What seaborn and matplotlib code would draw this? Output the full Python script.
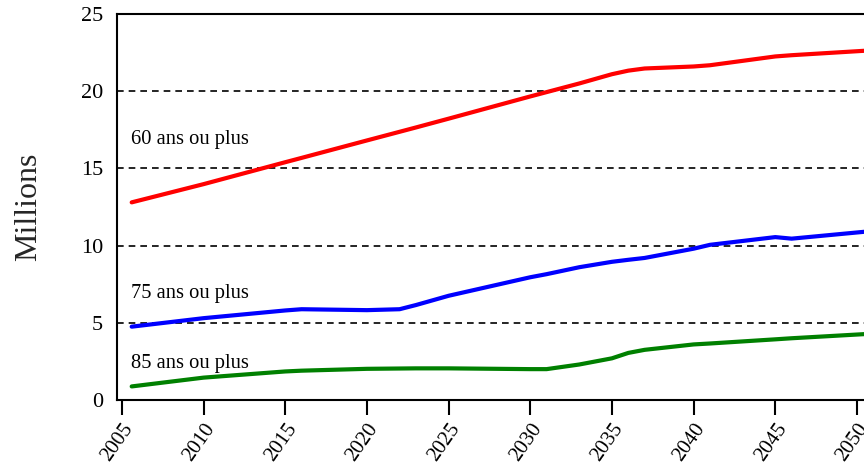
import pandas as pd
import matplotlib
matplotlib.use("Agg")
import matplotlib.pyplot as plt
import seaborn as sns

# population projections (millions)
years = [2005.6, 2010, 2015, 2016, 2020, 2022, 2023, 2025, 2030, 2031,
         2033, 2035, 2036, 2037, 2040, 2041, 2045, 2046, 2050.5]
plus60 = [12.8, 13.98, 15.4, 15.68, 16.81, 17.37, 17.65, 18.22, 19.66, 19.94,
          20.5, 21.1, 21.33, 21.47, 21.6, 21.68, 22.25, 22.33, 22.62]
plus75 = [4.75, 5.3, 5.8, 5.88, 5.82, 5.88, 6.15, 6.75, 7.95, 8.15,
          8.6, 8.95, 9.08, 9.2, 9.8, 10.05, 10.55, 10.45, 10.9]
plus85 = [0.88, 1.45, 1.85, 1.9, 2.02, 2.04, 2.05, 2.05, 2.0, 2.0,
          2.3, 2.7, 3.05, 3.25, 3.6, 3.66, 3.93, 4.0, 4.27]

groups = ["60 ans ou plus", "75 ans ou plus", "85 ans ou plus"]
colors = ["#ff0000", "#0000ff", "#008000"]
label_y = [16.6, 6.6, 2.05]
xticks = list(range(2005, 2051, 5))
yticks = [0, 5, 10, 15, 20, 25]

df = pd.DataFrame({
    "year": years * 3,
    "value": plus60 + plus75 + plus85,
    "group": [g for g in groups for _ in years],
})

sns.set_style("white")
plt.rcParams['font.family'] = ['Liberation Serif', 'DejaVu Serif']

fig = plt.figure(figsize=(8.64, 4.66), dpi=100)
ax = fig.add_axes([0.1354, 0.1416, 0.8646, 0.8284])

for y in yticks[1:-1]:
    ax.axhline(y, color="black", lw=1.2, ls=(0, (4, 3)), zorder=1)

sns.lineplot(data=df, x="year", y="value", hue="group", palette=colors,
             linewidth=3, legend=False, ax=ax, zorder=3)

for g, ly in zip(groups, label_y):
    ax.text(2005.55, ly, g, fontsize=14.8, color="black", va="baseline", ha="left")

ax.set_xlim(2004.7, 2050.43)
ax.set_ylim(0, 25)
ax.set_xticks(xticks)
ax.set_yticks(yticks)
ax.set_xticklabels([str(t) for t in xticks], rotation=55, ha="right",
                   rotation_mode="anchor", fontsize=15)
ax.set_yticklabels([str(t) for t in yticks], fontsize=16)
ax.set_xlabel("")
ax.set_ylabel("Millions", fontsize=23, labelpad=27)

ax.tick_params(axis="x", direction="out", length=11, width=1.5, pad=3.5,
               bottom=True, colors="black")
ax.tick_params(axis="y", length=0, pad=10, colors="black")

for side in ["left", "bottom", "top"]:
    ax.spines[side].set_visible(True)
    ax.spines[side].set_color("black")
    ax.spines[side].set_linewidth(1.5)
ax.spines["right"].set_visible(False)

fig.savefig("out.png", dpi=100)
